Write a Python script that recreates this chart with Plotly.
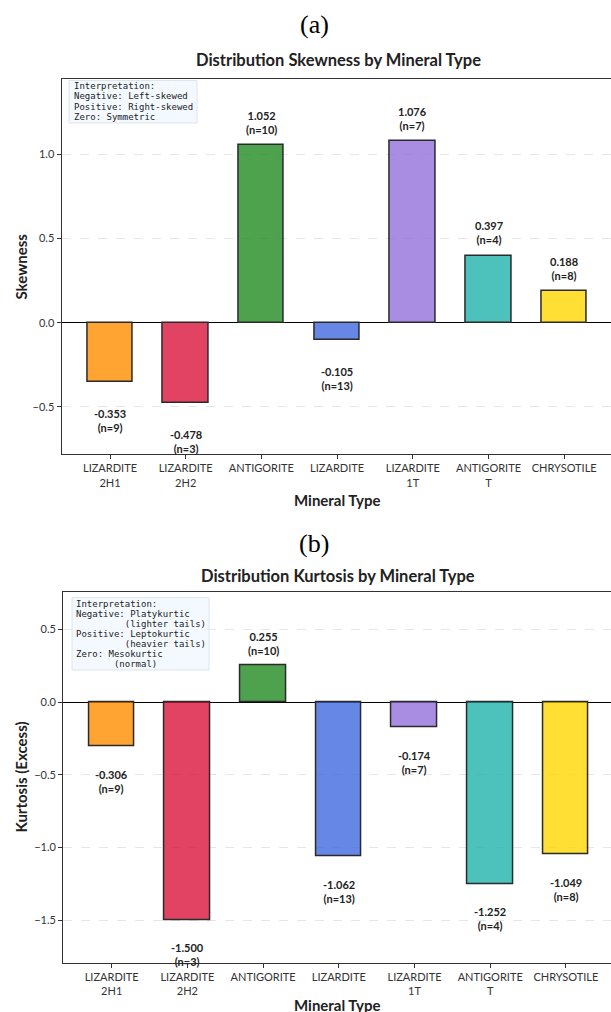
import plotly.graph_objects as go

# Mineral groups, shown in this order along the x axis
minerals = ["LIZARDITE 2H1", "LIZARDITE 2H2", "ANTIGORITE", "LIZARDITE",
            "LIZARDITE 1T", "ANTIGORITE T", "CHRYSOTILE"]
tick_labels = ["LIZARDITE<br>2H1", "LIZARDITE<br>2H2", "ANTIGORITE", "LIZARDITE",
               "LIZARDITE<br>1T", "ANTIGORITE<br>T", "CHRYSOTILE"]

# Distribution statistics per mineral group
skewness = [-0.353, -0.478, 1.052, -0.105, 1.076, 0.397, 0.188]
kurtosis = [-0.306, -1.500, 0.255, -1.062, -0.174, -1.252, -1.049]
sample_n = [9, 3, 10, 13, 7, 4, 8]

bar_colors = ["#FF8C00", "#DC143C", "#228B22", "#4169E1", "#9370DB", "#20B2AA", "#FFD700"]

# Interpretation notes (one entry per text line)
skew_note = ["Interpretation:", "Negative: Left-skewed", "Positive: Right-skewed", "Zero: Symmetric"]
kurt_note = ["Interpretation:", "Negative: Platykurtic", " " * 9 + "(lighter tails)",
             "Positive: Leptokurtic", " " * 9 + "(heavier tails)",
             "Zero: Mesokurtic", " " * 7 + "(normal)"]

W, H = 611, 1012
FONT = "Lato"


def rgba(hex_color, alpha):
    h = hex_color.lstrip("#")
    r, g, b = int(h[0:2], 16), int(h[2:4], 16), int(h[4:6], 16)
    return f"rgba({r},{g},{b},{alpha})"


def px_x(p):
    return p / W


def px_y(p):
    return 1 - p / H


fig = go.Figure()

panels = [
    dict(values=skewness, xa="x", ya="y", xname="xaxis", yname="yaxis",
         left=61.7, tick0_px=110.0, top=79.0, bottom=454.0, yrange=[-0.779, 1.446],
         ytitle="Skewness", tag="(a)", tag_y=25,
         title="Distribution Skewness by Mineral Type", title_y=60,
         xtitle_y=500,
         note=skew_note, box=(69, 80.5, 197, 123), text_x=72.5, line0=86.3),
    dict(values=kurtosis, xa="x2", ya="y2", xname="xaxis2", yname="yaxis2",
         left=63.3, tick0_px=111.7, top=592.3, bottom=962.7, yrange=[-1.794, 0.756],
         ytitle="Kurtosis (Excess)", tag="(b)", tag_y=543,
         title="Distribution Kurtosis by Mineral Type", title_y=576,
         xtitle_y=1005,
         note=kurt_note, box=(72, 597.5, 209, 670), text_x=74.5, line0=603.7),
]

annotations = []
shapes = []
px_per_cat = 75.7
line_step = 10.1

for p in panels:
    xs = list(range(len(minerals)))
    fig.add_trace(go.Bar(
        x=xs, y=p["values"], width=0.6,
        marker=dict(color=[rgba(c, 0.8) for c in bar_colors],
                    line=dict(color="#2a2a2a", width=1.5)),
        xaxis=p["xa"], yaxis=p["ya"], showlegend=False,
        hovertext=minerals,
    ))

    left = p["left"]
    x_lo = -(p["tick0_px"] - left) / px_per_cat
    x_hi = x_lo + (W - left) / px_per_cat

    fig.update_layout({
        p["xname"]: dict(
            domain=[px_x(left), 1.0], range=[x_lo, x_hi], anchor=p["ya"],
            tickmode="array", tickvals=xs, ticktext=tick_labels,
            showline=True, linecolor="#333333", linewidth=1.3, mirror=True,
            ticks="outside", ticklen=4, tickcolor="#333333", tickwidth=1,
            tickfont=dict(family=FONT, size=11, color="#333333"),
            showgrid=False, zeroline=False,
        ),
        p["yname"]: dict(
            domain=[px_y(p["bottom"]), px_y(p["top"])], range=p["yrange"], anchor=p["xa"],
            tickmode="linear", tick0=0, dtick=0.5, tickformat=".1f",
            showline=True, linecolor="#333333", linewidth=1.3,
            ticks="outside", ticklen=4, tickcolor="#333333", tickwidth=1,
            tickfont=dict(family=FONT, size=11, color="#333333"),
            showgrid=True, gridcolor="#e6e6e6", griddash="dash", gridwidth=0.8,
            zeroline=True, zerolinecolor="#000000", zerolinewidth=1.3,
        ),
    })

    # value labels above / below each bar
    for i, (v, n) in enumerate(zip(p["values"], sample_n)):
        if v >= 0:
            y, anchor = v + 0.05, "bottom"
        else:
            y, anchor = v - 0.14, "top"
        annotations.append(dict(
            x=i, y=y, xref=p["xa"], yref=p["ya"], yanchor=anchor, xanchor="center",
            text=f"<b>{v:.3f}</b><br><b>(n={n})</b>", showarrow=False,
            font=dict(family=FONT, size=11, color="#222222"), borderpad=0,
        ))

    # panel tag, title and axis titles
    annotations.append(dict(
        x=px_x(314), y=px_y(p["tag_y"]), xref="paper", yref="paper",
        text=p["tag"], showarrow=False, xanchor="center", yanchor="middle",
        font=dict(family="Liberation Serif", size=26, color="#000000"),
    ))
    annotations.append(dict(
        x=px_x(338), y=px_y(p["title_y"]), xref="paper", yref="paper",
        text=f"<b>{p['title']}</b>", showarrow=False, xanchor="center", yanchor="middle",
        font=dict(family=FONT, size=16.5, color="#222222"),
    ))
    annotations.append(dict(
        x=px_x(337), y=px_y(p["xtitle_y"]), xref="paper", yref="paper",
        text="<b>Mineral Type</b>", showarrow=False, xanchor="center", yanchor="middle",
        font=dict(family=FONT, size=15, color="#222222"),
    ))
    annotations.append(dict(
        x=px_x(20), y=px_y((p["top"] + p["bottom"]) / 2), xref="paper", yref="paper",
        text=f"<b>{p['ytitle']}</b>", showarrow=False, xanchor="center", yanchor="middle",
        textangle=-90, font=dict(family=FONT, size=15, color="#222222"),
    ))

    # interpretation note: rounded-looking box plus one annotation per line
    bx0, by0, bx1, by1 = p["box"]
    shapes.append(dict(
        type="rect", xref="paper", yref="paper",
        x0=px_x(bx0), x1=px_x(bx1), y0=px_y(by1), y1=px_y(by0),
        fillcolor="rgba(240,248,255,0.8)", line=dict(color="#dde6ea", width=1),
        layer="above",
    ))
    for k, line in enumerate(p["note"]):
        annotations.append(dict(
            x=px_x(p["text_x"]), y=px_y(p["line0"] + k * line_step), xref="paper", yref="paper",
            xanchor="left", yanchor="middle", align="left", showarrow=False,
            text=line.replace(" ", "\u00a0"),
            font=dict(family="DejaVu Sans Mono", size=9, color="#222222"), borderpad=0,
        ))

fig.update_layout(
    width=W, height=H, margin=dict(l=0, r=0, t=0, b=0),
    paper_bgcolor="white", plot_bgcolor="white",
    annotations=annotations, shapes=shapes, bargap=0,
)

fig.write_html("out.html")
